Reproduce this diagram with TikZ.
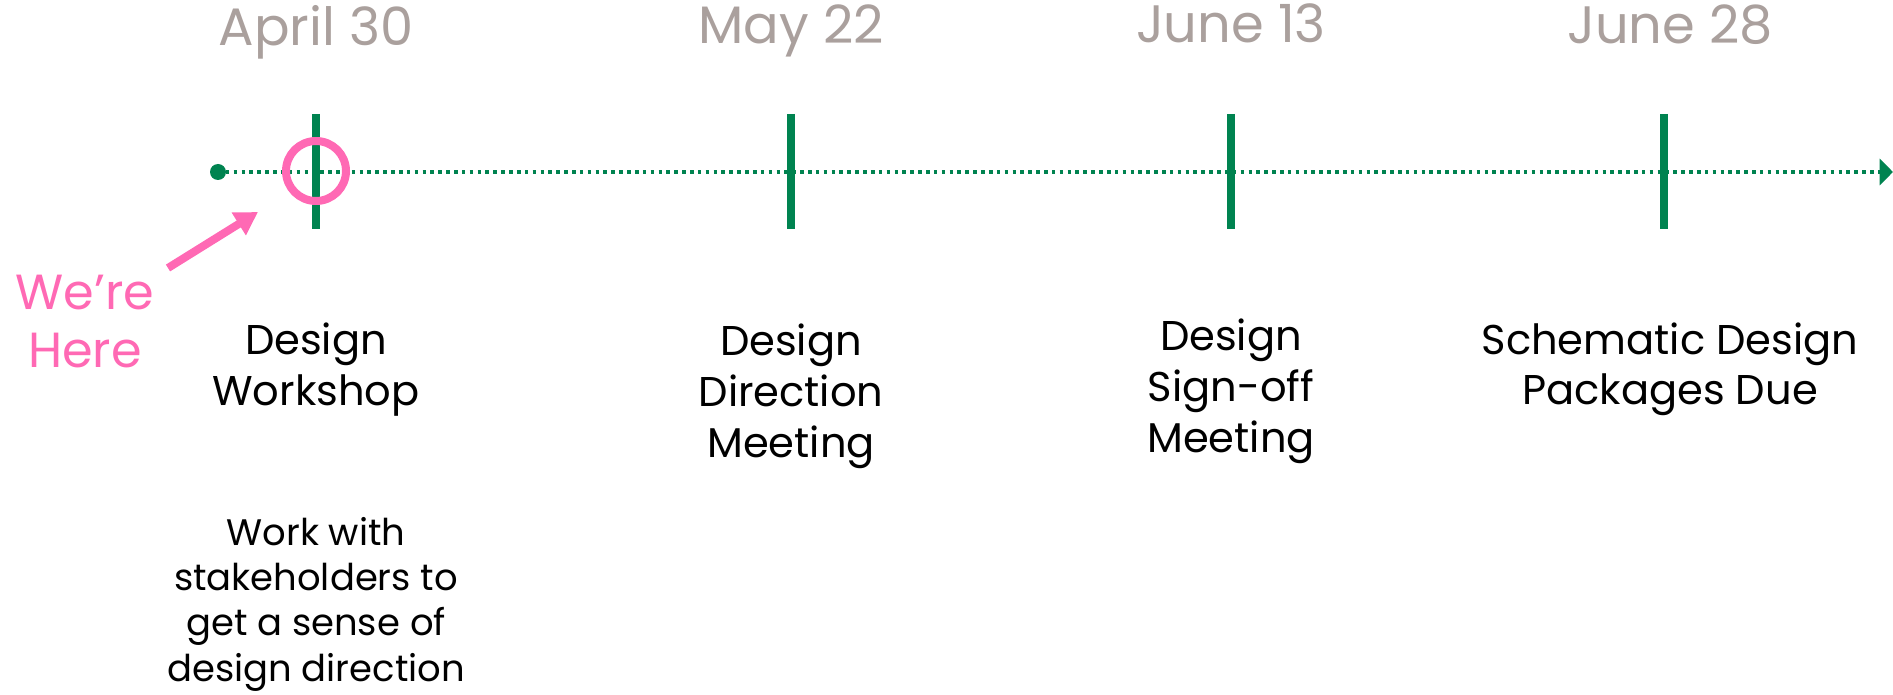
\documentclass[tikz,border=0pt]{standalone}
\usepackage{fontspec}
\setmainfont{Poppins}
\usetikzlibrary{arrows.meta}
\definecolor{tlgreen}{RGB}{0,131,80}
\definecolor{tlpink}{RGB}{255,105,180}
\definecolor{tlgray}{RGB}{170,160,157}
\tikzset{
  datelabel/.style={text=tlgray, font=\fontsize{39.5}{44}\selectfont, inner sep=0pt, anchor=base},
  titlelabel/.style={text=black, font=\fontsize{31.2}{38.25}\selectfont, inner sep=0pt, align=center, anchor=base},
  desclabel/.style={text=black, font=\fontsize{27.7}{34}\selectfont, inner sep=0pt, align=center, anchor=base},
  herelabel/.style={text=tlpink, font=\fontsize{37}{43.5}\selectfont, inner sep=0pt, align=center, anchor=base},
  tickline/.style={draw=tlgreen, line width=6.5pt},
  timeline/.style={draw=tlgreen, line width=3pt, dash pattern=on 2.7pt off 3.2pt},
}
\begin{document}
\begin{tikzpicture}[x=0.75pt, y=-0.75pt]
\useasboundingbox (0,0) rectangle (1893,695);
% timeline
\node[circle, fill=tlgreen, minimum size=12pt, inner sep=0pt] (start) at (218,172) {};
\coordinate (end) at (1893,172);
\draw[timeline, -{Triangle[length=10pt, width=19.5pt]}] (start.center) -- (end);
% ticks
\foreach \n/\x in {t1/316, t2/791, t3/1231, t4/1664}{
  \coordinate (\n top) at (\x,114);
  \coordinate (\n bot) at (\x,229);
  \draw[tickline] (\n top) -- (\n bot);
}
% current marker
\node[circle, draw=tlpink, line width=6pt, minimum size=45pt, inner sep=0pt] (ring) at (316,171) {};
\coordinate (arrtail) at (168,268);
\coordinate (arrtip) at (258,212);
\draw[tlpink, line width=6pt, -{Triangle[length=17pt, width=19pt]}] (arrtail) -- (arrtip);
\node[herelabel] (here) at (85,368) {We’re\\Here};
% dates
\node[datelabel] (d1) at (316,46) {April 30};
\node[datelabel] (d2) at (791,44) {May 22};
\node[datelabel] (d3) at (1231,43) {June 13};
\node[datelabel] (d4) at (1670,44) {June 28};
% titles
\node[titlelabel] (m1) at (316,406) {Design\\Workshop};
\node[titlelabel] (m2) at (791,457) {Design\\Direction\\Meeting};
\node[titlelabel] (m3) at (1231,452) {Design\\Sign-off\\Meeting};
\node[titlelabel] (m4) at (1670,405) {Schematic Design\\Packages Due};
% description
\node[desclabel] (desc) at (316,681) {Work with\\stakeholders to\\get a sense of\\design direction};
\end{tikzpicture}
\end{document}
